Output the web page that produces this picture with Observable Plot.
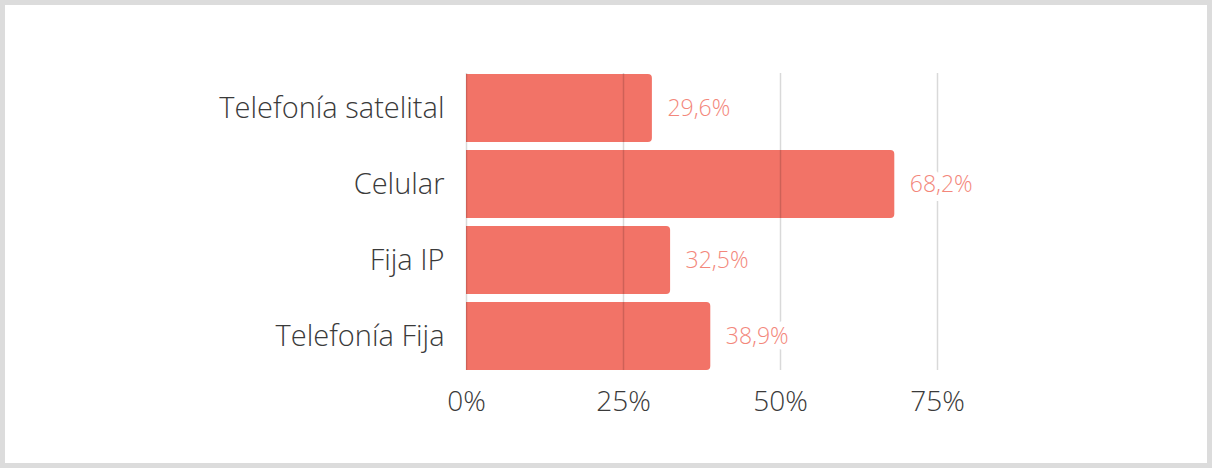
<!DOCTYPE html>
<html>
<head>
<meta charset="utf-8">
<script src="https://cdn.jsdelivr.net/npm/d3@7"></script>
<script src="https://cdn.jsdelivr.net/npm/@observablehq/plot@0.6"></script>
<style>
  html, body { margin: 0; padding: 0; background: #fff; }
  #frame { box-sizing: border-box; width: 1212px; height: 468px; border: 5px solid #dcdcdc; background: #fff; overflow: hidden; }
  #frame svg { display: block; font-family: "Open Sans", sans-serif; font-weight: 300; }
  #frame svg text { font-weight: 300; }
</style>
</head>
<body>
<div id="frame"></div>
<script>
const categories = ["Telefonía satelital", "Celular", "Fija IP", "Telefonía Fija"];
const values = [29.6, 68.2, 32.5, 38.9];
const xTicks = [0, 25, 50, 75];

const data = categories.map((c, i) => ({category: c, value: values[i]}));
const fmt = v => v.toFixed(1).replace(".", ",") + "%";

const chart = Plot.plot({
  width: 1202,
  height: 458,
  marginLeft: 461,
  marginRight: 113,
  marginTop: 68,
  marginBottom: 93,
  style: {fontFamily: "Open Sans, sans-serif", fontWeight: 300, background: "#fff"},
  x: {domain: [0, 100]},
  y: {domain: categories, paddingInner: 0.11, paddingOuter: 0},
  marks: [
    Plot.barX(data, {x: "value", y: "category", fill: "#f27367", rx2: 4}),
    Plot.ruleX(xTicks, {stroke: "#000", strokeOpacity: 0.15, strokeWidth: 1.5}),
    Plot.text(data, {x: "value", y: "category", text: d => fmt(d.value), textAnchor: "start", dx: 15, fill: "#f3877b", stroke: "#fff", strokeWidth: 12, fontSize: 23, fontWeight: 300}),
    Plot.axisY({tickSize: 0, tickPadding: 22, fontSize: 29, fill: "#3a3a3a", label: null}),
    Plot.axisX({ticks: xTicks, tickSize: 0, tickPadding: 21, fontSize: 28, fill: "#3a3a3a", label: null, tickFormat: d => d + "%"})
  ]
});
document.getElementById("frame").appendChild(chart);
</script>
</body>
</html>
